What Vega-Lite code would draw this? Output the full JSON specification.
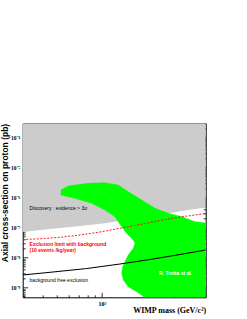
{
  "$schema": "https://vega.github.io/schema/vega-lite/v6.json",
  "width": 183,
  "height": 174,
  "autosize": {"type": "none"},
  "padding": {"left": 22.7, "top": 123.3, "right": 41.3, "bottom": 21.7},
  "background": "white",
  "config": {"view": {"stroke": "black", "strokeWidth": 1}},
  "datasets": {
    "gray": [
      {"mass": 29.6, "sigma": 7.19e-8}, {"mass": 48.6, "sigma": 9.4e-8}, {"mass": 71.4, "sigma": 1.14e-7},
      {"mass": 104.7, "sigma": 1.40e-7}, {"mass": 153.7, "sigma": 1.88e-7}, {"mass": 243.6, "sigma": 2.75e-7},
      {"mass": 357.5, "sigma": 3.74e-7}, {"mass": 491.3, "sigma": 4.71e-7}
    ],
    "green": [
      {"mass": 53.3, "sigma": 1.23e-6}, {"mass": 53.3, "sigma": 1.81e-6}, {"mass": 59.6, "sigma": 2.45e-6},
      {"mass": 81.0, "sigma": 3.02e-6}, {"mass": 104.7, "sigma": 3.16e-6}, {"mass": 128.4, "sigma": 2.65e-6},
      {"mass": 149.7, "sigma": 1.58e-6}, {"mass": 183.9, "sigma": 8.38e-7}, {"mass": 225.6, "sigma": 4.43e-7},
      {"mass": 276.7, "sigma": 3.02e-7}, {"mass": 339.9, "sigma": 2.33e-7}, {"mass": 416.9, "sigma": 1.58e-7},
      {"mass": 524.8, "sigma": 1.38e-7}, {"mass": 524.8, "sigma": 3.89e-10}, {"mass": 193.5, "sigma": 3.89e-10},
      {"mass": 187.7, "sigma": 5.29e-10}, {"mass": 170.3, "sigma": 7.36e-10}, {"mass": 149.7, "sigma": 1.08e-9},
      {"mass": 138.7, "sigma": 1.81e-9}, {"mass": 135.3, "sigma": 3.02e-9}, {"mass": 137.4, "sigma": 5.01e-9},
      {"mass": 142.3, "sigma": 7.36e-9}, {"mass": 149.7, "sigma": 1.23e-8}, {"mass": 161.7, "sigma": 2.06e-8},
      {"mass": 166.0, "sigma": 3.02e-8}, {"mass": 161.7, "sigma": 3.89e-8}, {"mass": 153.7, "sigma": 5.01e-8},
      {"mass": 146.1, "sigma": 6.50e-8}, {"mass": 135.3, "sigma": 1.08e-7}, {"mass": 122.1, "sigma": 2.33e-7},
      {"mass": 104.7, "sigma": 3.89e-7}, {"mass": 85.4, "sigma": 6.50e-7}, {"mass": 66.1, "sigma": 9.55e-7},
      {"mass": 53.3, "sigma": 1.23e-6}
    ],
    "red": [
      {"mass": 29.6, "sigma": 4.04e-8}, {"mass": 38.6, "sigma": 4.27e-8}, {"mass": 52.5, "sigma": 4.79e-8},
      {"mass": 71.4, "sigma": 5.71e-8}, {"mass": 97.0, "sigma": 7.19e-8}, {"mass": 131.8, "sigma": 9.55e-8},
      {"mass": 179.2, "sigma": 1.28e-7}, {"mass": 243.6, "sigma": 1.74e-7}, {"mass": 331.1, "sigma": 2.27e-7},
      {"mass": 491.3, "sigma": 2.97e-7}
    ],
    "black": [
      {"mass": 29.6, "sigma": 2.65e-9}, {"mass": 47.1, "sigma": 3.33e-9}, {"mass": 79.4, "sigma": 4.37e-9},
      {"mass": 131.8, "sigma": 6.17e-9}, {"mass": 208.9, "sigma": 8.71e-9}, {"mass": 331.1, "sigma": 1.28e-8},
      {"mass": 491.3, "sigma": 1.81e-8}
    ]
  },
  "layer": [
    {
      "data": {"name": "gray"},
      "mark": {"type": "area", "color": "#cccccc", "clip": true},
      "encoding": {
        "x": {
          "field": "mass", "type": "quantitative",
          "scale": {"type": "log", "domain": [29.6, 491.3], "nice": false},
          "axis": {
            "orient": "bottom", "values": [30, 40, 50, 60, 70, 80, 90, 100, 200, 300, 400],
            "domain": false, "grid": false, "tickColor": "black", "tickWidth": 0.8,
            "tickSize": {"condition": {"test": "datum.value == 100", "value": -5}, "value": -2.5},
            "labelExpr": "datum.value == 100 ? '10²' : ''",
            "labelFont": "Liberation Serif", "labelFontWeight": "bold", "labelFontSize": 6, "labelColor": "black",
            "labelPadding": 8, "labelOverlap": false,
            "title": "WIMP mass (GeV/c²)", "titleFont": "Liberation Serif", "titleFontWeight": "bold",
            "titleFontSize": 8, "titleColor": "black", "titleAnchor": "end", "titlePadding": -2
          }
        },
        "y": {
          "field": "sigma", "type": "quantitative",
          "scale": {"type": "log", "domain": [4.79e-10, 3.02e-4], "nice": false},
          "axis": {
            "orient": "left",
            "values": [5e-10,6e-10,7e-10,8e-10,9e-10,1e-9,2e-9,3e-9,4e-9,5e-9,6e-9,7e-9,8e-9,9e-9,1e-8,2e-8,3e-8,4e-8,5e-8,6e-8,7e-8,8e-8,9e-8,1e-7,2e-7,3e-7,4e-7,5e-7,6e-7,7e-7,8e-7,9e-7,1e-6,2e-6,3e-6,4e-6,5e-6,6e-6,7e-6,8e-6,9e-6,1e-5,2e-5,3e-5,4e-5,5e-5,6e-5,7e-5,8e-5,9e-5,1e-4,2e-4],
            "domain": false, "grid": false, "tickColor": "black", "tickWidth": 0.8,
            "tickSize": {"condition": {"test": "abs(log(datum.value)/LN10 - round(log(datum.value)/LN10)) < 0.01", "value": -5}, "value": -2.5},
            "labelExpr": "abs(log(datum.value)/LN10 - round(log(datum.value)/LN10)) < 0.01 ? ['10⁻⁹','10⁻⁸','10⁻⁷','10⁻⁶','10⁻⁵','10⁻⁴'][round(log(datum.value)/LN10)+9] : ''",
            "labelFont": "Liberation Serif", "labelFontWeight": "bold", "labelFontSize": 5.5, "labelColor": "black",
            "labelPadding": 8, "labelOverlap": false,
            "title": "Axial cross-section on proton (pb)", "titleFont": "Liberation Sans", "titleFontWeight": "bold",
            "titleFontSize": 8.5, "titleColor": "black", "titleAnchor": "end", "titlePadding": 1
          }
        },
        "y2": {"datum": 0.000302}
      }
    },
    {
      "data": {"name": "green"},
      "mark": {"type": "line", "fill": "#00ff00", "stroke": "#00ff00", "strokeWidth": 0.5, "clip": true},
      "encoding": {
        "x": {
          "field": "mass", "type": "quantitative",
          "axis": {
            "orient": "top", "values": [30, 40, 50, 60, 70, 80, 90, 100, 200, 300, 400],
            "domain": false, "grid": false, "labels": false, "title": null, "tickColor": "black", "tickWidth": 0.8,
            "tickSize": {"condition": {"test": "datum.value == 100", "value": -5}, "value": -2.5}
          }
        },
        "y": {
          "field": "sigma", "type": "quantitative",
          "axis": {
            "orient": "right",
            "values": [5e-10,6e-10,7e-10,8e-10,9e-10,1e-9,2e-9,3e-9,4e-9,5e-9,6e-9,7e-9,8e-9,9e-9,1e-8,2e-8,3e-8,4e-8,5e-8,6e-8,7e-8,8e-8,9e-8,1e-7,2e-7,3e-7,4e-7,5e-7,6e-7,7e-7,8e-7,9e-7,1e-6,2e-6,3e-6,4e-6,5e-6,6e-6,7e-6,8e-6,9e-6,1e-5,2e-5,3e-5,4e-5,5e-5,6e-5,7e-5,8e-5,9e-5,1e-4,2e-4],
            "domain": false, "grid": false, "labels": false, "title": null, "tickColor": "black", "tickWidth": 0.8,
            "tickSize": {"condition": {"test": "abs(log(datum.value)/LN10 - round(log(datum.value)/LN10)) < 0.01", "value": -5}, "value": -2.5}
          }
        },
        "order": {"value": null}
      }
    },
    {
      "data": {"name": "red"},
      "mark": {"type": "line", "color": "#ff0000", "strokeWidth": 0.9, "strokeDash": [2, 1.5], "clip": true},
      "encoding": {
        "x": {"field": "mass", "type": "quantitative", "axis": null},
        "y": {"field": "sigma", "type": "quantitative", "axis": null}
      }
    },
    {
      "data": {"name": "black"},
      "mark": {"type": "line", "color": "#000000", "strokeWidth": 1.1, "clip": true},
      "encoding": {
        "x": {"field": "mass", "type": "quantitative", "axis": null},
        "y": {"field": "sigma", "type": "quantitative", "axis": null}
      }
    },
    {
      "data": {"values": [
        {"text": "Discovery : evidence > 3σ", "mass": 32.9, "sigma": 4.43e-7},
        {"text": "background free exclusion", "mass": 32.9, "sigma": 1.81e-9}
      ]},
      "mark": {"type": "text", "align": "left", "baseline": "middle", "font": "Liberation Sans", "fontSize": 5, "color": "black"},
      "encoding": {
        "x": {"field": "mass", "type": "quantitative", "axis": null},
        "y": {"field": "sigma", "type": "quantitative", "axis": null},
        "text": {"field": "text"}
      }
    },
    {
      "data": {"values": [
        {"text": "Exclusion limit with background", "mass": 32.9, "sigma": 2.86e-8},
        {"text": "(10 events /kg/year)", "mass": 32.9, "sigma": 1.81e-8}
      ]},
      "mark": {"type": "text", "align": "left", "baseline": "middle", "font": "Liberation Sans", "fontWeight": "bold", "fontSize": 5, "color": "#ff0000"},
      "encoding": {
        "x": {"field": "mass", "type": "quantitative", "axis": null},
        "y": {"field": "sigma", "type": "quantitative", "axis": null},
        "text": {"field": "text"}
      }
    },
    {
      "data": {"values": [
        {"text": "R. Trotta et al.", "mass": 239.9, "sigma": 3.02e-9}
      ]},
      "mark": {"type": "text", "align": "left", "baseline": "middle", "font": "Liberation Sans", "fontWeight": "bold", "fontSize": 5, "color": "white"},
      "encoding": {
        "x": {"field": "mass", "type": "quantitative", "axis": null},
        "y": {"field": "sigma", "type": "quantitative", "axis": null},
        "text": {"field": "text"}
      }
    }
  ],
  "resolve": {"axis": {"x": "independent", "y": "independent"}}
}
